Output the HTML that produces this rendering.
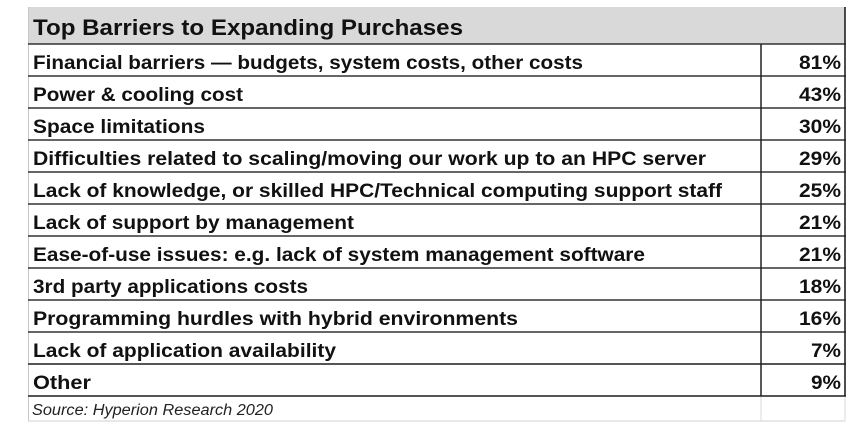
<!DOCTYPE html>
<html>
<head>
<meta charset="utf-8">
<style>
  html,body{margin:0;padding:0;background:#fff;}
  body{width:868px;height:428px;overflow:hidden;}
  svg{display:block;}
  .t{font-family:"Liberation Sans",Arial,sans-serif;font-weight:bold;fill:#111;}
</style>
</head>
<body>
<svg width="868" height="428" viewBox="0 0 868 428" xmlns="http://www.w3.org/2000/svg">
  <rect x="0" y="0" width="868" height="428" fill="#ffffff"/>
  <!-- header -->
  <rect x="28" y="7" width="817" height="37" fill="#d9d9d9"/>
  <!-- light borders (left & source row) -->
  <line x1="28.5" y1="7" x2="28.5" y2="421" stroke="#c8c8c8" stroke-width="1"/>
  <line x1="28" y1="421" x2="845" y2="421" stroke="#d0d0d0" stroke-width="1"/>
  <line x1="761" y1="396" x2="761" y2="421" stroke="#d8d8d8" stroke-width="1"/>
  <line x1="845" y1="396" x2="845" y2="421" stroke="#d8d8d8" stroke-width="1"/>
  <!-- horizontal row lines -->
  <g stroke="#333" stroke-width="1.6">
    <line x1="28" y1="44" x2="846" y2="44"/>
    <line x1="28" y1="76" x2="846" y2="76"/>
    <line x1="28" y1="108" x2="846" y2="108"/>
    <line x1="28" y1="140" x2="846" y2="140"/>
    <line x1="28" y1="172" x2="846" y2="172"/>
    <line x1="28" y1="204" x2="846" y2="204"/>
    <line x1="28" y1="236" x2="846" y2="236"/>
    <line x1="28" y1="268" x2="846" y2="268"/>
    <line x1="28" y1="300" x2="846" y2="300"/>
    <line x1="28" y1="332" x2="846" y2="332"/>
    <line x1="28" y1="364" x2="846" y2="364" stroke="#555" stroke-width="2"/>
    <line x1="28" y1="396" x2="846" y2="396" stroke="#555" stroke-width="2"/>
  </g>
  <!-- verticals -->
  <line x1="761" y1="44" x2="761" y2="396" stroke="#222" stroke-width="1.5"/>
  <line x1="845" y1="7" x2="845" y2="396" stroke="#222" stroke-width="1.6"/>

  <!-- title -->
  <text class="t" x="33" y="35" font-size="22" textLength="430" lengthAdjust="spacingAndGlyphs">Top Barriers to Expanding Purchases</text>

  <!-- rows -->
  <g class="t" font-size="19">
    <text class="t" x="33" y="69" textLength="550" lengthAdjust="spacingAndGlyphs">Financial barriers — budgets, system costs, other costs</text>
    <text class="t" x="33" y="101" textLength="210" lengthAdjust="spacingAndGlyphs">Power &amp; cooling cost</text>
    <text class="t" x="33" y="133" textLength="172" lengthAdjust="spacingAndGlyphs">Space limitations</text>
    <text class="t" x="33" y="165" textLength="673" lengthAdjust="spacingAndGlyphs">Difficulties related to scaling/moving our work up to an HPC server</text>
    <text class="t" x="33" y="197" textLength="689" lengthAdjust="spacingAndGlyphs">Lack of knowledge, or skilled HPC/Technical computing support staff</text>
    <text class="t" x="33" y="229" textLength="321" lengthAdjust="spacingAndGlyphs">Lack of support by management</text>
    <text class="t" x="33" y="261" textLength="612" lengthAdjust="spacingAndGlyphs">Ease-of-use issues: e.g. lack of system management software</text>
    <text class="t" x="33" y="293" textLength="275" lengthAdjust="spacingAndGlyphs">3rd party applications costs</text>
    <text class="t" x="33" y="325" textLength="485" lengthAdjust="spacingAndGlyphs">Programming hurdles with hybrid environments</text>
    <text class="t" x="33" y="357" textLength="303" lengthAdjust="spacingAndGlyphs">Lack of application availability</text>
    <text class="t" x="33" y="389" textLength="58" lengthAdjust="spacingAndGlyphs">Other</text>
  </g>

  <!-- percentages -->
  <g class="t" font-size="19">
    <text class="t" x="799" y="69" textLength="42" lengthAdjust="spacingAndGlyphs">81%</text>
    <text class="t" x="799" y="101" textLength="42" lengthAdjust="spacingAndGlyphs">43%</text>
    <text class="t" x="799" y="133" textLength="42" lengthAdjust="spacingAndGlyphs">30%</text>
    <text class="t" x="799" y="165" textLength="42" lengthAdjust="spacingAndGlyphs">29%</text>
    <text class="t" x="799" y="197" textLength="42" lengthAdjust="spacingAndGlyphs">25%</text>
    <text class="t" x="799" y="229" textLength="42" lengthAdjust="spacingAndGlyphs">21%</text>
    <text class="t" x="799" y="261" textLength="42" lengthAdjust="spacingAndGlyphs">21%</text>
    <text class="t" x="799" y="293" textLength="42" lengthAdjust="spacingAndGlyphs">18%</text>
    <text class="t" x="799" y="325" textLength="42" lengthAdjust="spacingAndGlyphs">16%</text>
    <text class="t" x="811" y="357" textLength="30" lengthAdjust="spacingAndGlyphs">7%</text>
    <text class="t" x="811" y="389" textLength="30" lengthAdjust="spacingAndGlyphs">9%</text>
  </g>

  <!-- source -->
  <text x="32" y="415" font-family="Liberation Sans, Arial, sans-serif" font-style="italic" font-size="15.5" fill="#222" textLength="241" lengthAdjust="spacingAndGlyphs">Source: Hyperion Research 2020</text>
</svg>
</body>
</html>
